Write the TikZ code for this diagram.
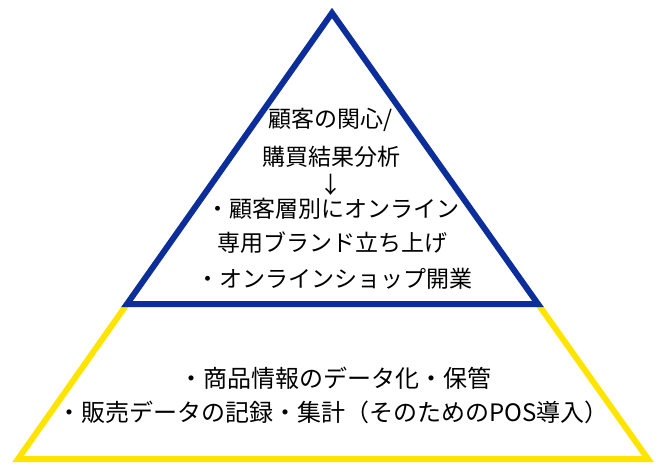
\documentclass[tikz,border=0pt]{standalone}
\usepackage{fontspec}
\newfontfamily\jp{Noto Sans CJK JP}
\definecolor{pyblue}{RGB}{12,46,155}
\definecolor{pyyellow}{RGB}{255,228,0}
\begin{document}
\begin{tikzpicture}[x=1pt,y=-1pt,
  edge/.style={line width=6pt,line join=miter},
  txt/.style={font=\jp\fontsize{23}{23}\selectfont,inner sep=0pt,anchor=center}]
\useasboundingbox (0,0) rectangle (667,472);
\coordinate (apex) at (332,13);
\coordinate (bl) at (127,304);
\coordinate (br) at (538,304);
\coordinate (yl) at (18,459);
\coordinate (yr) at (648,459);
\draw[edge,pyyellow] (bl) -- (yl) -- (yr) -- (br);
\draw[edge,pyblue] (apex) -- (bl) -- (br) -- cycle;
\node[txt] (t1) at (331,120) {顧客の関心/};
\node[txt] (t2) at (331,157) {購買結果分析};
\node[txt] (t3) at (331,185) {↓};
\node[txt] (t4) at (333,209) {・顧客層別にオンライン};
\node[txt] (t5) at (332,243) {専用ブランド立ち上げ};
\node[txt] (t6) at (334,279) {・オンラインショップ開業};
\node[txt,font=\jp\fontsize{24}{24}\selectfont] (b1) at (335,378) {・商品情報のデータ化・保管};
\node[txt,font=\jp\fontsize{24}{24}\selectfont] (b2) at (333,412) {・販売データの記録・集計（そのためのPOS導入）};
\end{tikzpicture}
\end{document}
